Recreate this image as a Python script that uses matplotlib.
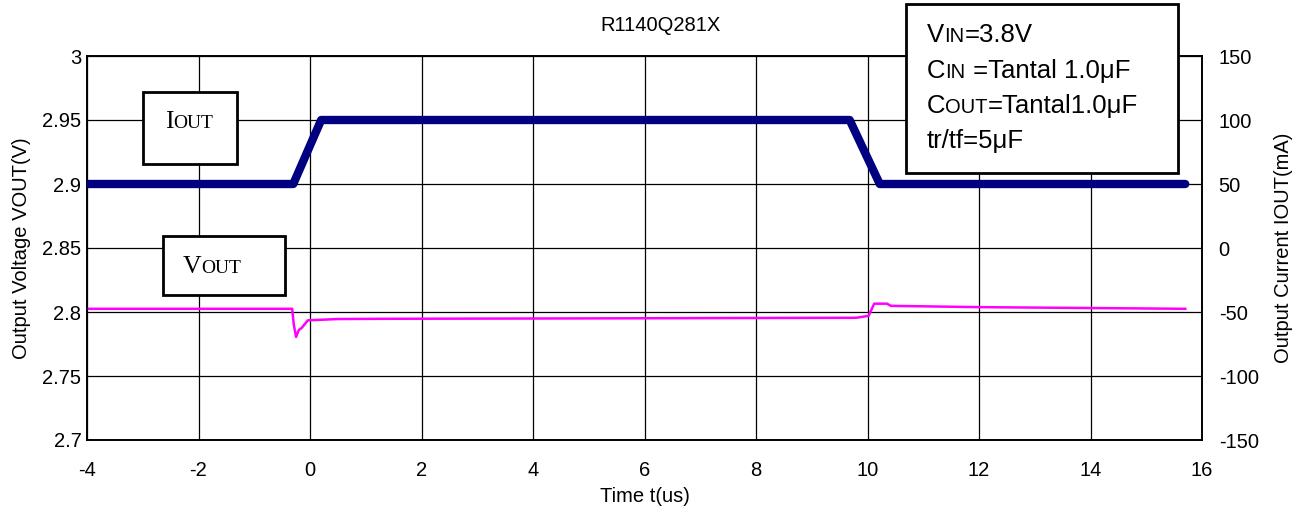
import matplotlib
matplotlib.use("Agg")
import matplotlib.pyplot as plt
from matplotlib.patches import Rectangle
from matplotlib.text import Annotation

plt.rcParams['font.family'] = ['Liberation Sans', 'DejaVu Sans']
plt.rcParams['axes.unicode_minus'] = False

# output current trace (mA)
t_iout = [-4, -0.3, 0.2, 9.68, 10.22, 15.7]
iout = [50, 50, 100, 100, 50, 50]

# output voltage trace (V)
t_vout = [-4, -0.32, -0.29, -0.25, -0.2, -0.15, -0.04, 0.5, 1.3, 5, 9.8,
          10.02, 10.12, 10.35, 10.42, 12, 15.7]
vout = [2.8025, 2.8025, 2.790, 2.7805, 2.786, 2.7875, 2.7935, 2.7945, 2.7947,
        2.795, 2.7955, 2.797, 2.8065, 2.8065, 2.8048, 2.8038, 2.8025]

x_ticks = [-4, -2, 0, 2, 4, 6, 8, 10, 12, 14, 16]
v_ticks = [2.7, 2.75, 2.8, 2.85, 2.9, 2.95, 3.0]
v_labels = ['2.7', '2.75', '2.8', '2.85', '2.9', '2.95', '3']
i_ticks = [-150, -100, -50, 0, 50, 100, 150]

W, H = 1305, 514
fs = 14.5
fig = plt.figure(figsize=(W / 100, H / 100), dpi=100)
ax = fig.add_axes([87 / W, 1 - 440 / H, 1115 / W, 384 / H])
ax2 = ax.twinx()

ax.plot(t_vout, vout, color='#ff00ff', lw=1.8, zorder=3)
ax2.plot(t_iout, iout, color='#000080', lw=6, solid_capstyle='round', solid_joinstyle='round', zorder=3)

ax.set_xlim(-4, 16)
ax.set_ylim(2.7, 3.0)
ax2.set_ylim(-150, 150)
ax.set_xticks(x_ticks)
ax.set_yticks(v_ticks)
ax.set_yticklabels(v_labels)
ax2.set_yticks(i_ticks)
ax.grid(True, color='black', lw=0.9)
ax.tick_params(axis='x', labelsize=fs, length=0, pad=15)
ax.tick_params(axis='y', labelsize=fs, length=0, pad=4)
ax2.tick_params(axis='y', labelsize=fs, length=0, pad=12)
for a in (ax, ax2):
    for s in a.spines.values():
        s.set_color('black')
        s.set_linewidth(1.2)

ax.set_xlabel('Time t(us)', fontsize=fs, labelpad=5)
ax.set_ylabel('Output Voltage VOUT(V)', fontsize=fs, labelpad=8)
ax2.set_ylabel('Output Current IOUT(mA)', fontsize=fs, labelpad=11)
fig.text(661 / W, 1 - 31 / H, 'R1140Q281X', fontsize=fs, ha='center', va='baseline')


def pix(x, y):
    return x / W, 1 - y / H


def small_caps(x, y, pieces, family):
    # pieces: list of (text, size) drawn one after another on one baseline
    fx, fy = pix(x, y)
    prev = fig.text(fx, fy, pieces[0][0], fontsize=pieces[0][1], family=family,
                    ha='left', va='baseline', zorder=10)
    for txt, size in pieces[1:]:
        dy = (prev.get_fontsize() - size) * 0.21
        ann = Annotation(txt, xy=(1, 0), xycoords=prev, xytext=(0, dy),
                         textcoords='offset points', fontsize=size, family=family,
                         ha='left', va='bottom', annotation_clip=False, zorder=10)
        fig.add_artist(ann)
        prev = ann


def box(x0, y0, x1, y1):
    fx0, fy1 = pix(x0, y1)
    fx1, fy0 = pix(x1, y0)
    fig.patches.append(Rectangle((fx0, fy1), fx1 - fx0, fy0 - fy1, transform=fig.transFigure,
                                 facecolor='white', edgecolor='black', lw=2, zorder=5))


# label boxes
box(143, 92, 237, 164)
small_caps(165, 128, [('I', 18.5), ('OUT', 14)], 'Liberation Serif')
box(163, 236, 285, 295)
small_caps(183, 273, [('V', 18.5), ('OUT', 14)], 'Liberation Serif')

# conditions box
box(906, 4, 1178, 173)
big, sm = 18.5, 14.5
small_caps(927, 42, [('V', big), ('IN', sm), ('=3.8V', big)], 'Liberation Sans')
small_caps(927, 78, [('C', big), ('IN', sm), (' =Tantal 1.0\u03bcF', big)], 'Liberation Sans')
small_caps(927, 113, [('C', big), ('OUT', sm), ('=Tantal1.0\u03bcF', big)], 'Liberation Sans')
small_caps(927, 148, [('tr/tf=5\u03bcF', big)], 'Liberation Sans')

fig.savefig('out.png', dpi=100)
